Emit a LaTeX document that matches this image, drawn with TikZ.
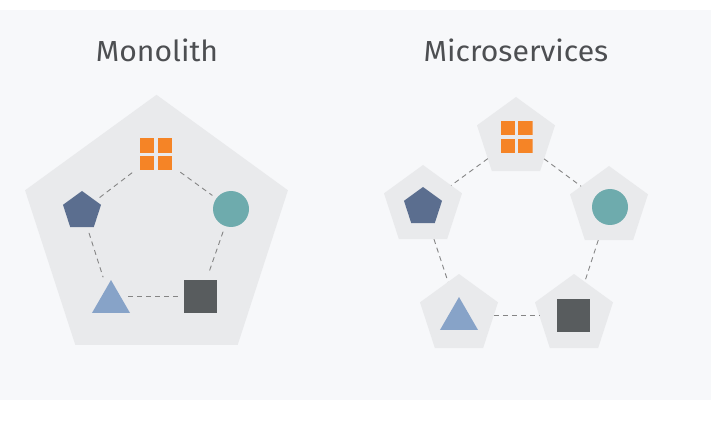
\documentclass[tikz,border=0pt]{standalone}
\usepackage{fontspec}
\newfontfamily\titlefont{Fira Sans}[FakeStretch=1.04]
\usetikzlibrary{shapes.geometric}
\definecolor{pagebg}{HTML}{F7F8FA}
\definecolor{panel}{HTML}{E9EAEC}
\definecolor{orng}{HTML}{F58426}
\definecolor{navy}{HTML}{5B6E8F}
\definecolor{teal1}{HTML}{6EABAD}
\definecolor{sky}{HTML}{87A3C8}
\definecolor{slate}{HTML}{585C5E}
\definecolor{dashc}{HTML}{858585}
\definecolor{titlec}{HTML}{4D4F52}
\tikzset{
  pent/.style={regular polygon, regular polygon sides=5, inner sep=0pt, outer sep=0pt, draw=none},
  bigpanel/.style={pent, fill=panel, minimum size=276.4pt},
  smallpanel/.style={pent, fill=panel, minimum size=82pt},
  navypent/.style={pent, fill=navy, minimum size=40pt},
  tealdot/.style={circle, fill=teal1, minimum size=36pt, inner sep=0pt, outer sep=0pt},
  skytri/.style={regular polygon, regular polygon sides=3, fill=sky, minimum size=43.9pt, inner sep=0pt, outer sep=0pt},
  slatesq/.style={rectangle, fill=slate, minimum size=33pt, inner sep=0pt, outer sep=0pt},
  gridbox/.style={rectangle, minimum size=32pt, inner sep=0pt, outer sep=0pt,
    path picture={
      \fill[orng] ([xshift=-16pt,yshift=-16pt]path picture bounding box.center) rectangle +(14.25pt,14.25pt);
      \fill[orng] ([xshift=1.75pt,yshift=-16pt]path picture bounding box.center) rectangle +(14.25pt,14.25pt);
      \fill[orng] ([xshift=-16pt,yshift=1.75pt]path picture bounding box.center) rectangle +(14.25pt,14.25pt);
      \fill[orng] ([xshift=1.75pt,yshift=1.75pt]path picture bounding box.center) rectangle +(14.25pt,14.25pt);
    }},
  link/.style={draw=dashc, line width=0.9pt, dash pattern=on 5pt off 4pt},
  title/.style={font=\titlefont\fontsize{29}{34}\selectfont, text=titlec, anchor=base, inner sep=0pt}
}
\begin{document}
\begin{tikzpicture}[x=1pt,y=-1pt]
\useasboundingbox (0,0) rectangle (728,422);
\fill[white] (0,0) rectangle (728,422);
\fill[pagebg] (0,10) rectangle (711,400);

% titles
\node[title] (tmono) at (157,61.7) {Monolith};
\node[title] (tmicro) at (516,61.7) {Microservices};

% ---------- Monolith ----------
\node[bigpanel] (mono) at (156.5,233) {};
\node[gridbox] (mgrid) at (156,154.5) {};
\node[navypent] (mpent) at (82,211) {};
\node[tealdot] (mcirc) at (231,209) {};
\node[skytri] (mtri) at (111,302) {};
\node[slatesq] (msq) at (200.5,296.5) {};

\draw[link, shorten <=30pt, shorten >=22pt] (mgrid.center) -- (mpent.center);
\draw[link, shorten <=30pt, shorten >=23pt] (mgrid.center) -- (mcirc.center);
\draw[link, shorten <=23pt, shorten >=26pt] (mpent.center) -- (mtri.center);
\draw[link, shorten <=24pt, shorten >=25pt] (mcirc.center) -- (msq.center);
\draw[link, shorten <=17pt, shorten >=21.5pt] (mtri.center |- msq.center) -- (msq.center);

% ---------- Microservices ----------
\node[smallpanel] (ptop) at (516,138) {};
\node[smallpanel] (pleft) at (423,206) {};
\node[smallpanel] (pright) at (609,207) {};
\node[smallpanel] (pbl) at (459,315) {};
\node[smallpanel] (pbr) at (574,315) {};

\node[gridbox] (sgrid) at (516.5,137) {};
\node[navypent] (spent) at (423,207) {};
\node[tealdot] (scirc) at (610,207) {};
\node[skytri] (stri) at (459,319) {};
\node[slatesq] (ssq) at (573.5,315.5) {};

\draw[link] (ptop) -- (pleft);
\draw[link] (ptop) -- (pright);
\draw[link] (pleft) -- (pbl);
\draw[link] (pright) -- (pbr);
\draw[link] (pbl) -- (pbr);
\end{tikzpicture}
\end{document}
